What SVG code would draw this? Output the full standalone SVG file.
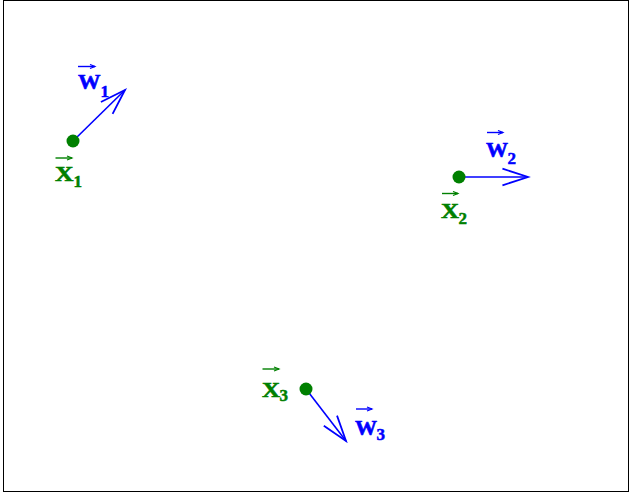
<svg xmlns="http://www.w3.org/2000/svg" width="629" height="493" viewBox="0 0 629 493">
<defs>
<style>
.lbl{font-family:"Liberation Serif",serif;font-weight:bold;font-size:21.5px;stroke-width:0.6}
.sub{font-family:"Liberation Serif",serif;font-weight:bold;font-size:17px;stroke-width:0.5}
.w{fill:#0000ff;stroke:#0000ff}
.x{fill:#008000;stroke:#008000}
.vec{stroke:#0000ff;stroke-width:1.6;fill:none}
.ow{stroke:#0000ff;stroke-width:1.4;fill:none}
.ox{stroke:#008000;stroke-width:1.4;fill:none}
</style>
<marker id="head" markerUnits="userSpaceOnUse" markerWidth="30" markerHeight="20" viewBox="-24 -9 26 18" refX="0" refY="0" orient="auto">
<path d="M-23,-7.5 L0,0 L-23,7.5" fill="none" stroke="#0000ff" stroke-width="1.6"/>
</marker>
<marker id="sh" markerUnits="userSpaceOnUse" markerWidth="8" markerHeight="6" viewBox="-6 -3 7 6" refX="0" refY="0" orient="auto">
<path d="M-5,-2 L0,0 L-5,2" fill="none" stroke="context-stroke" stroke-width="1.2"/>
</marker>
</defs>
<rect x="3.5" y="0.5" width="625" height="491" fill="#fff" stroke="#000" stroke-width="1"/>
<g id="connectors">
<line class="vec" x1="73" y1="141" x2="125" y2="90" marker-end="url(#head)"/>
<line class="vec" x1="459" y1="177" x2="528" y2="177" marker-end="url(#head)"/>
<line class="vec" x1="306" y1="389" x2="346" y2="441" marker-end="url(#head)"/>
</g>
<g id="node1">
<circle cx="73" cy="141" r="6.5" fill="#008000"/>
<line class="ow" x1="78" y1="66.5" x2="95" y2="66.5" marker-end="url(#sh)"/>
<text class="lbl w" x="78" y="89" textLength="22.5" lengthAdjust="spacingAndGlyphs">W</text>
<text class="sub w" x="100.5" y="97">1</text>
<line class="ox" x1="55.5" y1="158" x2="72" y2="158" marker-end="url(#sh)"/>
<text class="lbl x" x="55" y="181" textLength="18.5" lengthAdjust="spacingAndGlyphs">X</text>
<text class="sub x" x="73.5" y="186.5">1</text>
</g>
<g id="node2">
<circle cx="459" cy="177" r="6.5" fill="#008000"/>
<line class="ow" x1="487" y1="132.5" x2="503" y2="132.5" marker-end="url(#sh)"/>
<text class="lbl w" x="486" y="157" textLength="22" lengthAdjust="spacingAndGlyphs">W</text>
<text class="sub w" x="507.5" y="164">2</text>
<line class="ox" x1="442" y1="193.5" x2="458" y2="193.5" marker-end="url(#sh)"/>
<text class="lbl x" x="441" y="217.5" textLength="18" lengthAdjust="spacingAndGlyphs">X</text>
<text class="sub x" x="458.5" y="223.5">2</text>
</g>
<g id="node3">
<circle cx="306" cy="389" r="6.5" fill="#008000"/>
<line class="ow" x1="356" y1="409" x2="372" y2="409" marker-end="url(#sh)"/>
<text class="lbl w" x="355" y="434.5" textLength="22" lengthAdjust="spacingAndGlyphs">W</text>
<text class="sub w" x="376.5" y="440">3</text>
<line class="ox" x1="262.5" y1="369" x2="279" y2="369" marker-end="url(#sh)"/>
<text class="lbl x" x="262" y="396.5" textLength="18" lengthAdjust="spacingAndGlyphs">X</text>
<text class="sub x" x="279.5" y="401">3</text>
</g>
</svg>
